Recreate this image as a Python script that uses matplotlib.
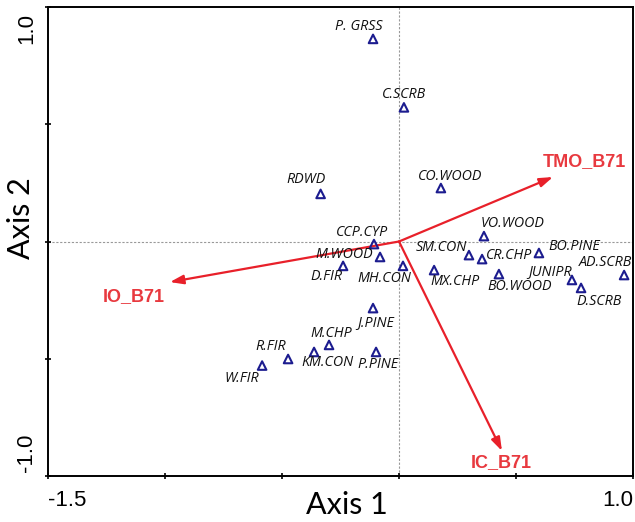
import numpy as np
import matplotlib
matplotlib.use("Agg")
import matplotlib.pyplot as plt

# site scores (axis 1, axis 2)
sites = ['P. GRSS', 'C.SCRB', 'RDWD', 'CO.WOOD', 'VO.WOOD', 'SM.CON', 'CR.CHP',
         'BO.PINE', 'AD.SCRB', 'JUNIPR', 'D.SCRB', 'BO.WOOD', 'MX.CHP', 'MH.CON',
         'CCP.CYP', 'M.WOOD', 'D.FIR', 'J.PINE', 'M.CHP', 'KM.CON', 'P.PINE',
         'R.FIR', 'W.FIR']
ax1 = [-0.111, 0.021, -0.335, 0.179, 0.363, 0.299, 0.355,
       0.598, 0.962, 0.739, 0.778, 0.427, 0.150, 0.017,
       -0.107, -0.081, -0.239, -0.111, -0.299, -0.363, -0.098,
       -0.474, -0.585]
ax2 = [0.864, 0.572, 0.203, 0.228, 0.023, -0.058, -0.075,
       -0.049, -0.143, -0.164, -0.198, -0.139, -0.122, -0.104,
       -0.011, -0.066, -0.104, -0.284, -0.441, -0.471, -0.471,
       -0.501, -0.529]

# environmental vectors
vectors = ['TMO_B71', 'IO_B71', 'IC_B71']
vec1 = [0.658, -0.979, 0.440]
vec2 = [0.275, -0.173, -0.893]

# label offsets in pixels (dx, dy)
site_off = [(-14, 12), (0, 13), (-15, 14), (9, 12), (29, 13), (-28, 8), (27, 4),
            (35, 6), (-19, 13), (-22, 8), (18, -14), (21, -12), (21, -11), (-19, -13),
            (-12, 12), (-36, 2), (-17, -11), (3, -14), (2, 11), (13, -11), (2, -13),
            (-17, 12), (-20, -13)]
vec_off = [(31, 15), (-36, -14), (-1, -12)]

fig = plt.figure(figsize=(6.35, 5.22), dpi=100)
ax = fig.add_axes([48/635, 46/522, 585/635, 469/522])
ax.set_xlim(-1.5, 1.0)
ax.set_ylim(-1.0, 1.0)

ax.axhline(0, color='#999999', lw=0.8, ls=(0, (2, 1.5)), zorder=1)
ax.axvline(0, color='#999999', lw=0.8, ls=(0, (2, 1.5)), zorder=1)

red = '#e8202a'
for name, x, y, (dx, dy) in zip(vectors, vec1, vec2, vec_off):
    ax.annotate('', xy=(x, y), xytext=(0, 0),
                arrowprops=dict(arrowstyle='-|>,head_length=0.8,head_width=0.27',
                                color=red, lw=1.6, shrinkA=0, shrinkB=0), zorder=3)
    ax.annotate(name, xy=(x, y), xytext=(dx, dy), textcoords='offset pixels',
                ha='center', va='center', color='#e8393f', fontsize=13,
                fontweight='bold', family='Liberation Sans', zorder=4)

ax.scatter(ax1, ax2, marker='^', s=38, facecolors='none', edgecolors='#1c1c8f',
           linewidths=1.5, zorder=5)
for name, x, y, (dx, dy) in zip(sites, ax1, ax2, site_off):
    ax.annotate(name, xy=(x, y), xytext=(dx, dy), textcoords='offset pixels',
                ha='center', va='center', fontsize=10.3, style='italic',
                family='Open Sans', color='#111111', zorder=6)

for s in ax.spines.values():
    s.set_linewidth(1.4)
ax.set_xticks([-1.5, -1.0, -0.5, 0, 0.5, 1.0])
ax.set_yticks([-1.0, -0.5, 0, 0.5, 1.0])
ax.set_xticklabels([])
ax.set_yticklabels([])
ax.tick_params(direction='inout', length=5, width=1.2)

tk = dict(fontsize=16, family='Liberation Sans', annotation_clip=False)
ax.annotate('-1.5', xy=(-1.5, -1.0), xytext=(0, -14), textcoords='offset pixels',
            ha='left', va='top', **tk)
ax.annotate('1.0', xy=(1.0, -1.0), xytext=(0, -14), textcoords='offset pixels',
            ha='right', va='top', **tk)
ax.annotate('1.0', xy=(-1.5, 1.0), xytext=(-11, -6), textcoords='offset pixels',
            ha='right', va='top', rotation=90, **tk)
ax.annotate('-1.0', xy=(-1.5, -1.0), xytext=(-11, 4), textcoords='offset pixels',
            ha='right', va='bottom', rotation=90, **tk)

fig.text(347/635, 1 - 505/522, 'Axis 1', ha='center', va='center',
         fontsize=22, family='Lato')
fig.text(21/635, 1 - 218/522, 'Axis 2', ha='center', va='center',
         fontsize=22, family='Lato', rotation=90)

fig.savefig('out.png', dpi=100)
